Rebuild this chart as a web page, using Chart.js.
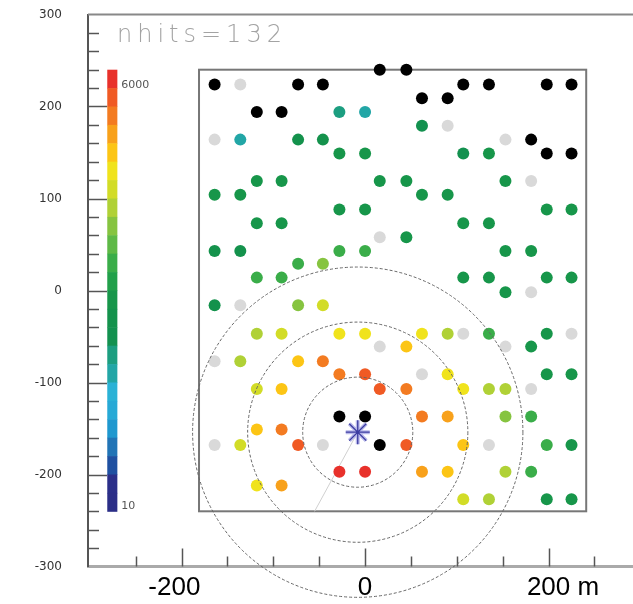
<!DOCTYPE html>
<html lang="en">
<head>
<meta charset="UTF-8">
<title>nhits=132</title>
<script src="https://cdn.jsdelivr.net/npm/chart.js"></script>
<style>
  html, body { margin: 0; padding: 0; background: #fff; }
  #wrap { width: 633px; height: 604px; }
</style>
</head>
<body>
<div id="wrap"><canvas id="hitMap" width="633" height="604"></canvas></div>
<script>
// station hits (metres). level = colour bar step counted from the top (0 = red)
// 'K' = saturated station (black), 'G' = silent station (grey)
const hitX = [
  16, 45,
  -164, -136, -73, -46, 107, 135, 198, 225,
  62, 90,
  -118, -91, -28, 0,
  62, 90,
  -164, -136, -73, -46, 153, 181,
  -28, 0, 107, 135, 198, 225,
  -118, -91, 16, 45, 153, 181,
  -164, -136, 62, 90,
  -28, 0, 198, 225,
  -118, -91, 107, 135,
  16, 45,
  -164, -136, -28, 0, 153, 181,
  -73, -46,
  -118, -91, 107, 135, 198, 225,
  153, 181,
  -164, -136, -73, -46,
  -118, -91, -28, 0, 62, 90, 107, 135, 198, 225,
  16, 45, 153, 181,
  -164, -136, -73, -46,
  -28, 0, 62, 90, 198, 225,
  -118, -91, 16, 45, 107, 135, 153, 181,
  -28, 0, 62, 90, 153, 181,
  -118, -91,
  -164, -136, -73, -46, 16, 45, 107, 135, 198, 225,
  -28, 0, 62, 90, 153, 181,
  -118, -91,
  107, 135, 198, 225
];
const hitY = [
  240, 240,
  224, 224, 224, 224, 224, 224, 224, 224,
  209, 209,
  194, 194, 194, 194,
  179, 179,
  164, 164, 164, 164, 164, 164,
  149, 149, 149, 149, 149, 149,
  119, 119, 119, 119, 119, 119,
  104, 104, 104, 104,
  88, 88, 88, 88,
  73, 73, 73, 73,
  58, 58,
  43, 43, 43, 43, 43, 43,
  29, 29,
  14, 14, 14, 14, 14, 14,
  -2, -2,
  -16, -16, -16, -16,
  -47, -47, -47, -47, -47, -47, -47, -47, -47, -47,
  -61, -61, -61, -61,
  -77, -77, -77, -77,
  -91, -91, -91, -91, -91, -91,
  -107, -107, -107, -107, -107, -107, -107, -107,
  -137, -137, -137, -137, -137, -137,
  -151, -151,
  -168, -168, -168, -168, -168, -168, -168, -168, -168, -168,
  -197, -197, -197, -197, -197, -197,
  -212, -212,
  -227, -227, -227, -227
];
const hitLevel = [
  'K', 'K',
  'K', 'G', 'K', 'K', 'K', 'K', 'K', 'K',
  'K', 'K',
  'K', 'K', 15, 16,
  14, 'G',
  'G', 16, 13, 13, 'G', 'K',
  12, 12, 14, 12, 'K', 'K',
  12, 12, 12, 12, 12, 'G',
  12, 12, 12, 12,
  12, 12, 12, 12,
  12, 12, 12, 12,
  'G', 12,
  13, 13, 10, 10, 12, 12,
  10, 8,
  10, 10, 12, 12, 12, 12,
  12, 'G',
  13, 'G', 8, 6,
  7, 6, 5, 5, 5, 7, 'G', 10, 12, 'G',
  'G', 4, 'G', 12,
  'G', 7, 4, 2,
  2, 1, 'G', 5, 12, 12,
  6, 4, 1, 2, 5, 7, 7, 'G',
  'K', 'K', 2, 3, 8, 10,
  4, 2,
  'G', 6, 1, 'G', 'K', 1, 4, 'G', 10, 12,
  0, 0, 3, 4, 7, 10,
  5, 3,
  6, 7, 12, 12
];

const corePos = [-8, -154];
const ringRadii = [60, 120, 180];
const showerAxisEnd = [-55, -240];
const arrayBox = [-181, -240, 241, 240];
const xTickLabels = [-200, 0, 200];
const yTickLabels = [-300, -200, -100, 0, 100, 200, 300];
const barLabels = ['6000', '10'];

// colour bar steps, top to bottom
const barColors = [
  '#e8312b', '#f05a24', '#f37b21', '#f8a11b', '#fcc515', '#f0e31c',
  '#d2dc27', '#b0d136', '#86c440', '#5eb946', '#3aad49', '#22a04a',
  '#17964a', '#14924c', '#13914f', '#1c9e80', '#22a6a6', '#2ab2d6',
  '#27a9d6', '#1f98cf', '#2174b6', '#1f50a1', '#2b2f89', '#2b2e87'
];

function hitColor(l) {
  if (l === 'K') return '#000000';
  if (l === 'G') return '#d9d9d9';
  return barColors[l];
}

// keep the frame where the reference has it: no label overflow padding
function pinScale(s, size) {
  if (s.isHorizontal()) s.height = size; else s.width = size;
  s.paddingTop = 0;
  s.paddingBottom = 0;
  s.paddingLeft = 0;
  s.paddingRight = 0;
}

const overlay = {
  id: 'overlay',
  beforeDatasetsDraw(chart) {
    const { ctx, chartArea: a, scales: { x, y } } = chart;
    ctx.save();

    // top frame line
    ctx.strokeStyle = '#888';
    ctx.lineWidth = 2;
    ctx.beginPath();
    ctx.moveTo(a.left, a.top);
    ctx.lineTo(a.right, a.top);
    ctx.stroke();

    // ticks point into the frame
    ctx.strokeStyle = '#555';
    ctx.lineWidth = 1.5;
    for (let v = -280; v <= 280; v += 20) {
      const py = Math.round(y.getPixelForValue(v)) + 0.5;
      const len = v % 100 === 0 ? 19 : 11;
      ctx.beginPath();
      ctx.moveTo(a.left, py);
      ctx.lineTo(a.left + len, py);
      ctx.stroke();
    }
    for (let v = -250; v <= 250; v += 50) {
      const px = Math.round(x.getPixelForValue(v)) + 0.5;
      const len = v % 200 === 0 ? 18 : 10;
      ctx.beginPath();
      ctx.moveTo(px, a.bottom);
      ctx.lineTo(px, a.bottom - len);
      ctx.stroke();
    }

    // colour bar
    const bx0 = x.getPixelForValue(-281);
    const bx1 = x.getPixelForValue(-270);
    const step = 480 / barColors.length;
    barColors.forEach((c, i) => {
      const t = y.getPixelForValue(240 - i * step);
      const b = y.getPixelForValue(240 - (i + 1) * step);
      ctx.fillStyle = c;
      ctx.fillRect(bx0, t, bx1 - bx0, b - t + 0.5);
    });
    ctx.fillStyle = '#555';
    ctx.font = '11px "DejaVu Sans"';
    ctx.textBaseline = 'middle';
    ctx.fillText(barLabels[0], bx1 + 4, y.getPixelForValue(240) + 15);
    ctx.fillText(barLabels[1], bx1 + 4, y.getPixelForValue(-240) - 5);

    // array outline
    ctx.strokeStyle = '#777';
    ctx.lineWidth = 2;
    const rx0 = x.getPixelForValue(arrayBox[0]), ry0 = y.getPixelForValue(arrayBox[1]);
    const rx1 = x.getPixelForValue(arrayBox[2]), ry1 = y.getPixelForValue(arrayBox[3]);
    ctx.strokeRect(rx0, ry1, rx1 - rx0, ry0 - ry1);

    // title inside the frame
    ctx.fillStyle = '#a3a3a3';
    ctx.font = '200 24px "DejaVu Sans"';
    ctx.textBaseline = 'alphabetic';
    ctx.letterSpacing = '5px';
    ctx.fillText('nhits=132', a.left + 29, a.top + 27);
    ctx.letterSpacing = '0px';
    ctx.restore();
  },
  afterDatasetsDraw(chart) {
    // rings round the core, not clipped to the frame
    const { ctx, scales: { x, y } } = chart;
    const cx = x.getPixelForValue(corePos[0]);
    const cy = y.getPixelForValue(corePos[1]);
    ctx.save();
    ctx.strokeStyle = '#666';
    ctx.lineWidth = 1;
    ctx.setLineDash([3, 2]);
    ringRadii.forEach(r => {
      const rp = x.getPixelForValue(corePos[0] + r) - cx;
      ctx.beginPath();
      ctx.arc(cx, cy, rp, 0, Math.PI * 2);
      ctx.stroke();
    });
    ctx.restore();
  }
};

const hits = hitX.map((v, i) => ({ x: v, y: hitY[i] }));
const core = [{ x: corePos[0], y: corePos[1] }];

new Chart(document.getElementById('hitMap'), {
  type: 'scatter',
  data: {
    datasets: [
      {
        data: core, pointStyle: 'star', pointRadius: 12,
        borderColor: '#3c3ca0', borderWidth: 1.3, backgroundColor: 'transparent', order: 0
      },
      {
        data: core, pointStyle: 'star', pointRadius: 12,
        borderColor: '#b8b8ea', borderWidth: 4, backgroundColor: 'transparent', order: 1
      },
      {
        data: hits, pointRadius: 6, borderWidth: 0,
        pointBackgroundColor: hitLevel.map(hitColor), order: 2
      },
      {
        data: [core[0], { x: showerAxisEnd[0], y: showerAxisEnd[1] }],
        showLine: true, pointRadius: 0, borderColor: '#d0d0d0', borderWidth: 1, order: 3
      }
    ]
  },
  options: {
    responsive: false,
    animation: false,
    events: [],
    layout: { autoPadding: false, padding: { top: 14.5, left: 0, right: 0, bottom: 0 } },
    plugins: { legend: { display: false }, tooltip: { enabled: false } },
    scales: {
      x: {
        type: 'linear', min: -302, max: 292,
        afterFit: s => pinScale(s, 37.5),
        afterBuildTicks: s => { s.ticks = xTickLabels.map(v => ({ value: v })); },
        grid: { display: false, drawTicks: false },
        border: { display: true, color: '#aaa', width: 3 },
        ticks: {
          padding: 6, color: '#000', maxRotation: 0, autoSkip: false,
          font: { size: 26, family: '"Liberation Sans"' },
          callback: v => v === 200 ? '    200 m' : v === -200 ? '-200  ' : String(v)
        }
      },
      y: {
        type: 'linear', min: -300, max: 300,
        afterFit: s => pinScale(s, 88),
        afterBuildTicks: s => { s.ticks = yTickLabels.map(v => ({ value: v })); },
        grid: { display: false, drawTicks: false },
        border: { display: true, color: '#555', width: 2 },
        ticks: { padding: 26, color: '#333', font: { size: 12, family: '"DejaVu Sans"' } }
      }
    }
  },
  plugins: [overlay]
});
</script>
</body>
</html>
